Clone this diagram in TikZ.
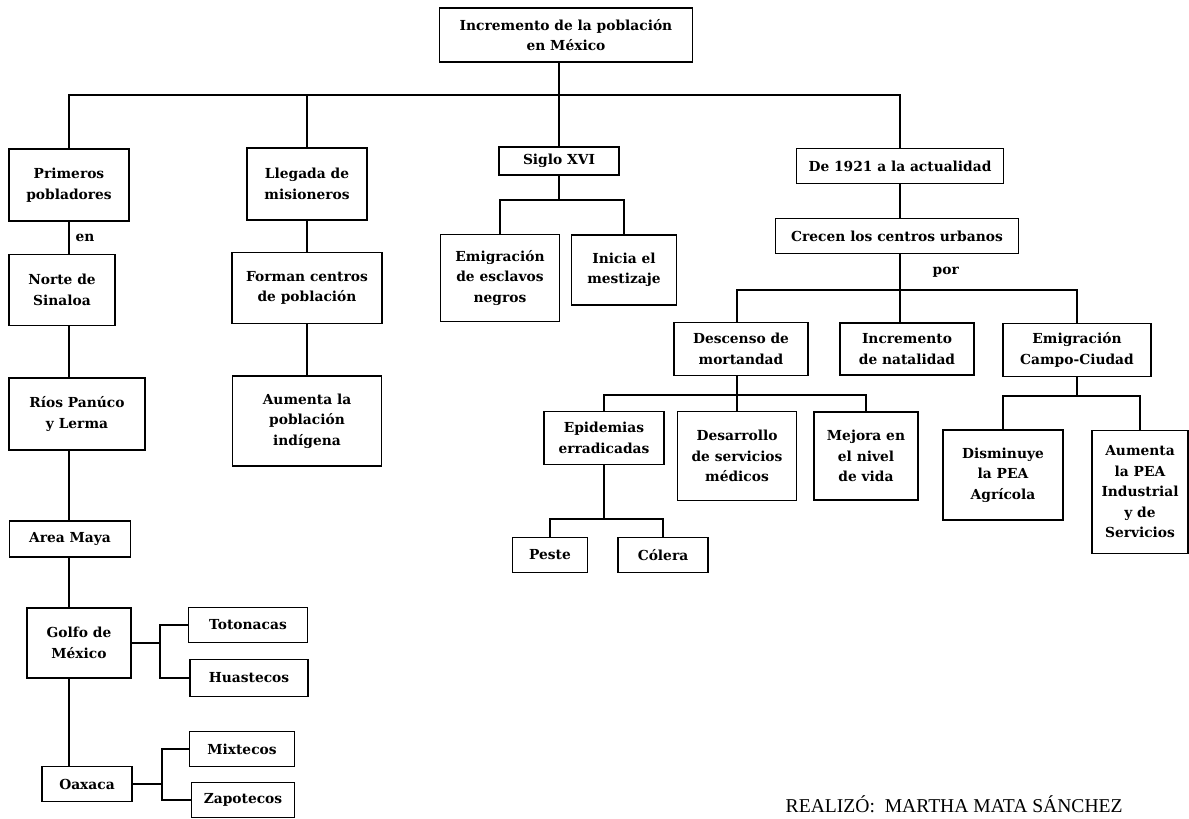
\documentclass[tikz,border=0pt]{standalone}
\usepackage{fontspec}
\setmainfont{DejaVu Serif}
\newfontfamily\firmafont{Liberation Serif}
\tikzset{
  caja/.style={draw, line width=1.4pt, fill=white, align=center, inner sep=1pt,
    font=\bfseries\fontsize{13.8}{20.5}\selectfont},
  rotulo/.style={font=\bfseries\fontsize{13.8}{20.5}\selectfont, inner sep=1pt},
  liga/.style={line width=1.4pt}
}
\begin{document}
\begin{tikzpicture}[x=1pt, y=-1pt, liga]
    \useasboundingbox (0,0) rectangle (1189,819);
    \coordinate (bus) at (0,95);
    \node[caja, minimum width=253, minimum height=54] (raiz) at (566,35) {Incremento de la población\\en México};
    \node[caja, minimum width=120, minimum height=72] (prim) at (69,185) {Primeros\\pobladores};
    \node[caja, minimum width=120, minimum height=72] (lleg) at (307,184) {Llegada de\\misioneros};
    \node[caja, minimum width=120, minimum height=28] (siglo) at (559,161) {Siglo XVI};
    \node[caja, minimum width=207, minimum height=35] (act) at (900,166) {De 1921 a la actualidad};
    \node[caja, minimum width=106, minimum height=71] (norte) at (62,290) {Norte de\\Sinaloa};
    \node[caja, minimum width=136, minimum height=72] (rios) at (77,414) {Ríos Panúco\\y Lerma};
    \node[caja, minimum width=121, minimum height=36] (area) at (70,539) {Area Maya};
    \node[caja, minimum width=104, minimum height=70] (golfo) at (79,643) {Golfo de\\México};
    \node[caja, minimum width=90, minimum height=35] (oax) at (87,784) {Oaxaca};
    \node[caja, minimum width=119, minimum height=35] (toto) at (248,625) {Totonacas};
    \node[caja, minimum width=118, minimum height=37] (huas) at (249,678) {Huastecos};
    \node[caja, minimum width=105, minimum height=35] (mixt) at (242,749) {Mixtecos};
    \node[caja, minimum width=103, minimum height=35] (zapo) at (243,800) {Zapotecos};
    \node[caja, minimum width=150, minimum height=71] (forman) at (307,288) {Forman centros\\de población};
    \node[caja, minimum width=149, minimum height=90] (aumind) at (307,421) {Aumenta la\\población\\indígena};
    \node[caja, minimum width=119, minimum height=87] (esclav) at (500,278) {Emigración\\de esclavos\\negros};
    \node[caja, minimum width=105, minimum height=70] (mest) at (624,270) {Inicia el\\mestizaje};
    \node[caja, minimum width=243, minimum height=35] (crecen) at (897,236) {Crecen los centros urbanos};
    \node[caja, minimum width=134, minimum height=53] (desc) at (741,349) {Descenso de\\mortandad};
    \node[caja, minimum width=134, minimum height=52] (nat) at (907,349) {Incremento\\de natalidad};
    \node[caja, minimum width=148, minimum height=53] (emig) at (1077,350) {Emigración\\Campo-Ciudad};
    \node[caja, minimum width=120, minimum height=53] (epid) at (604,438) {Epidemias\\erradicadas};
    \node[caja, minimum width=119, minimum height=89] (desarr) at (737,456) {Desarrollo\\de servicios\\médicos};
    \node[caja, minimum width=104, minimum height=88] (mejora) at (866,456) {Mejora en\\el nivel\\de vida};
    \node[caja, minimum width=75, minimum height=35] (peste) at (550,555) {Peste};
    \node[caja, minimum width=90, minimum height=35] (colera) at (663,555) {Cólera};
    \node[caja, minimum width=120, minimum height=90] (dism) at (1003,475) {Disminuye\\la PEA\\Agrícola};
    \node[caja, minimum width=96, minimum height=123] (aumpea) at (1140,492) {Aumenta\\la PEA\\Industrial\\y de\\Servicios};
    \coordinate (gb) at (160,643);
    \coordinate (ob) at (162,784);
    \coordinate (sb) at (559,200);
    \coordinate (cb) at (900,290);
    \coordinate (db) at (737,395);
    \coordinate (eb) at (604,519);
    \coordinate (mb) at (1077,396);
    \draw (siglo.north |- raiz.south) -- (siglo.north);
    \draw (prim.north) |- (bus -| act.north) -- (act.north);
    \draw (lleg.north) -- (lleg.north |- bus);
    \draw (prim.south) -- (prim.south |- norte.north) node[rotulo, midway, right=5pt] (en) {en};
    \foreach \a/\b in {norte/rios, rios/area, area/golfo, golfo/oax}
      \draw (\a.south -| prim.south) -- (\b.north -| prim.south);
    \draw (golfo.east) -- (gb);
    \draw (toto.west) -| (gb) |- (huas.west);
    \draw (oax.east) -- (ob);
    \draw (mixt.west) -| (ob) |- (zapo.west);
    \draw (lleg.south) -- (forman.north);
    \draw (forman.south) -- (aumind.north);
    \draw (siglo.south) -- (sb);
    \draw (esclav.north) |- (sb) -| (mest.north);
    \draw (act.south) -- (act.south |- crecen.north);
    \draw (crecen.south -| cb) -- (cb) node[rotulo, midway, right=31pt] (por) {por};
    \draw (cb) -- (nat.north -| cb);
    \draw (desc.north -| desarr.north) |- (cb) -| (emig.north);
    \draw (desc.south -| desarr.north) -- (desarr.north);
    \draw (epid.north) |- (db) -| (mejora.north);
    \draw (epid.south) -- (eb);
    \draw (peste.north) |- (eb) -| (colera.north);
    \draw (emig.south) -- (mb);
    \draw (dism.north) |- (mb) -| (aumpea.north);
    \node[anchor=base west, inner sep=0pt, font=\firmafont\fontsize{19.6}{19.6}\selectfont] (firma) at (785,812) {REALIZÓ:\ \ MARTHA MATA SÁNCHEZ};
\end{tikzpicture}
\end{document}
